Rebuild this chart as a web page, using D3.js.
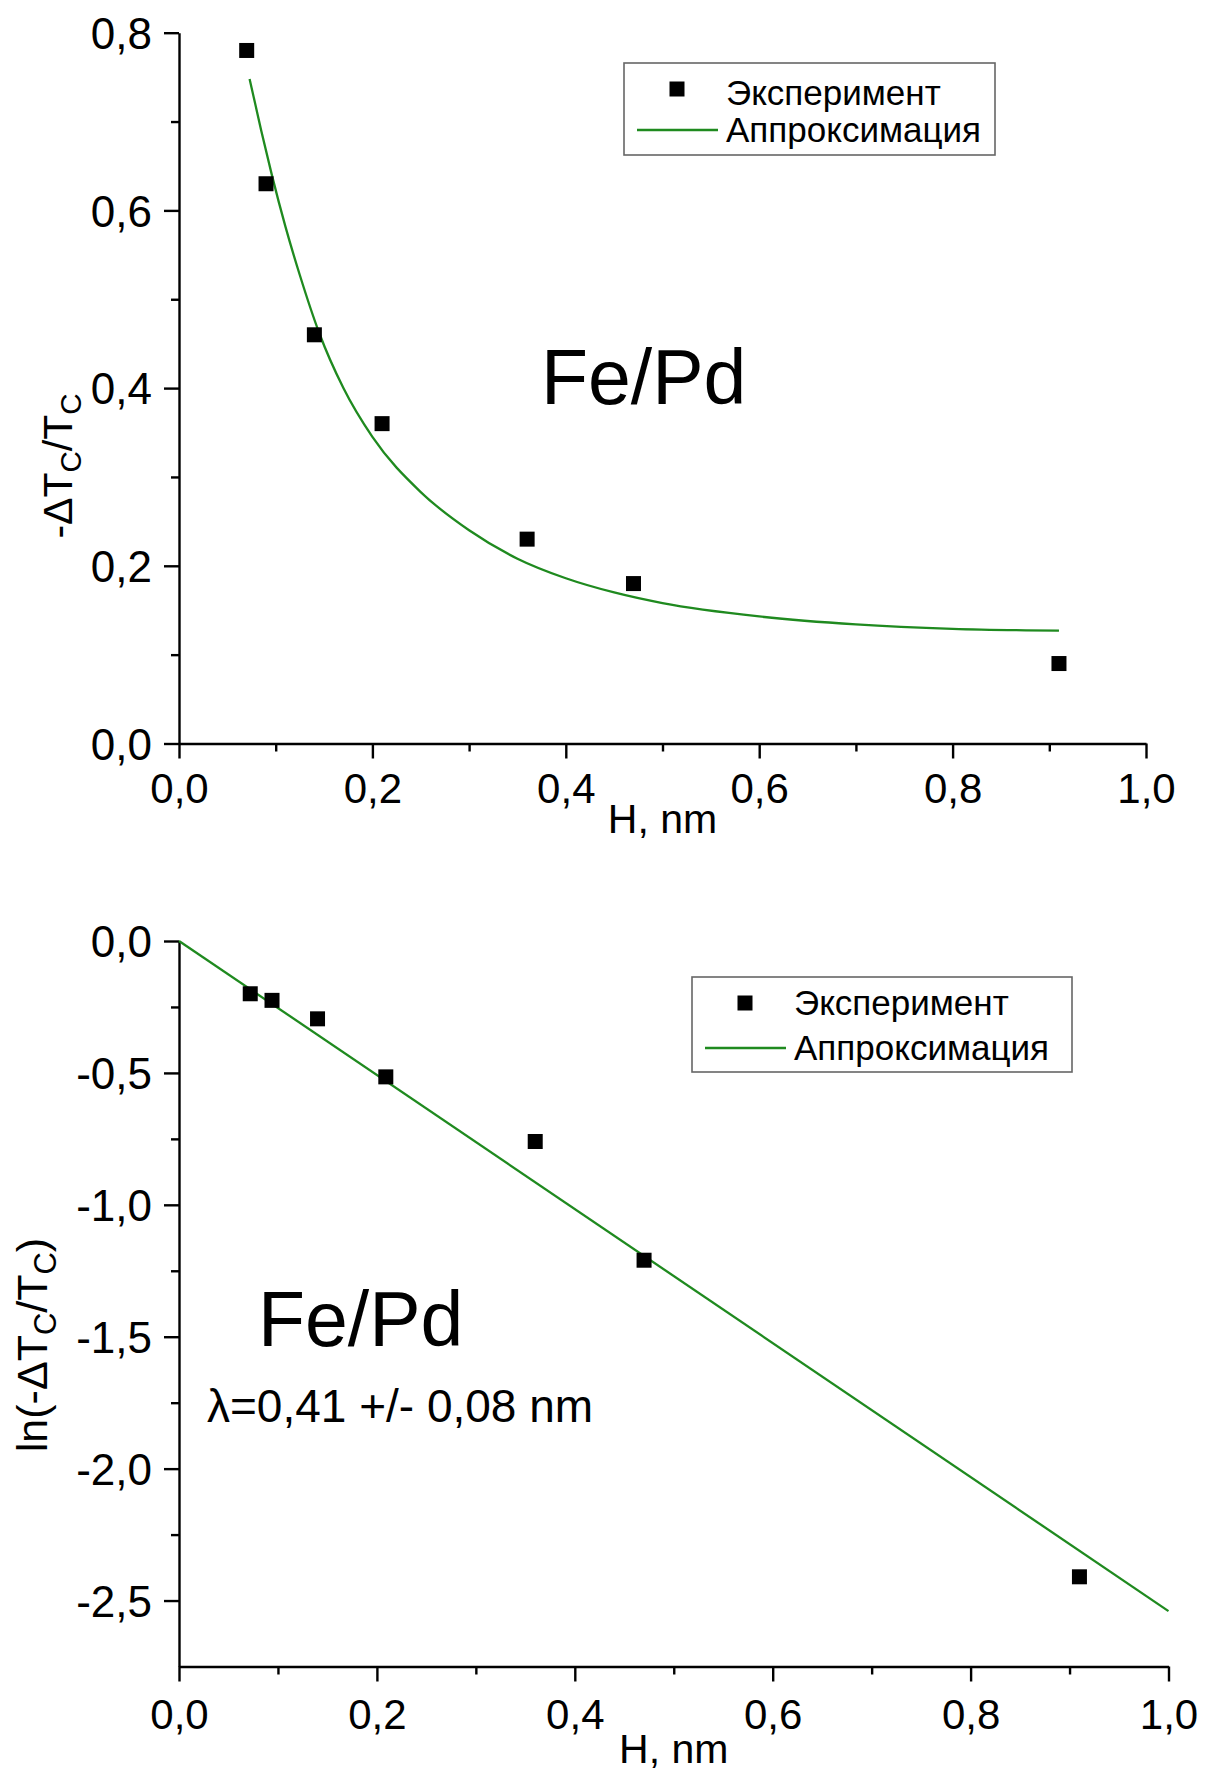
<!DOCTYPE html>
<html><head><meta charset="utf-8">
<script src="https://cdn.jsdelivr.net/npm/d3@7"></script>
<style>
html,body{margin:0;padding:0;background:#fff;}
svg text{font-family:"Liberation Sans",Arial,sans-serif;fill:#000;}
</style></head>
<body>
<svg id="c" width="1216" height="1775"></svg>
<script>
// ---- Data ----
const hTop = [0.07, 0.09, 0.14, 0.21, 0.36, 0.47, 0.91];
const dTcTop = [0.78, 0.63, 0.46, 0.36, 0.23, 0.18, 0.09];
const fitTopX = [0.073, 0.085, 0.096, 0.11, 0.125, 0.145, 0.17, 0.20, 0.25, 0.30, 0.35, 0.40, 0.45, 0.50, 0.60, 0.70, 0.80, 0.91];
const fitTopY = [0.748, 0.690, 0.640, 0.582, 0.527, 0.462, 0.400, 0.345, 0.283, 0.240, 0.208, 0.186, 0.170, 0.158, 0.143, 0.134, 0.129, 0.127];

const hBot = [0.072, 0.094, 0.14, 0.209, 0.36, 0.47, 0.91];
const lnBot = [-0.20, -0.225, -0.295, -0.515, -0.76, -1.21, -2.41];
const fitBotX = [0.0, 1.0];
const fitBotY = [0.0, -2.54];

const xTickValues = [0, 0.2, 0.4, 0.6, 0.8, 1.0];
const xTickLabels = ["0,0", "0,2", "0,4", "0,6", "0,8", "1,0"];
const xMinorValues = [0.1, 0.3, 0.5, 0.7, 0.9];
const yTopTickValues = [0, 0.2, 0.4, 0.6, 0.8];
const yTopTickLabels = ["0,0", "0,2", "0,4", "0,6", "0,8"];
const yTopMinorValues = [0.1, 0.3, 0.5, 0.7];
const yBotTickValues = [0, -0.5, -1.0, -1.5, -2.0, -2.5];
const yBotTickLabels = ["0,0", "-0,5", "-1,0", "-1,5", "-2,0", "-2,5"];
const yBotMinorValues = [-0.25, -0.75, -1.25, -1.75, -2.25];

const legendLabels = ["Эксперимент", "Аппроксимация"];
const sampleLabel = "Fe/Pd";
const lambdaLabel = "λ=0,41 +/- 0,08 nm";
const xTitle = "H, nm";

const GREEN = "#1f8a1f";
const svg = d3.select("#c");

function drawPanel(o) {
  const x = d3.scaleLinear().domain([0, 1]).range([o.x0, o.x1]);
  const y = d3.scaleLinear().domain(o.yDomain).range([o.y0, o.y1]);
  const g = svg.append("g");

  const fmtX = d => xTickLabels[xTickValues.indexOf(d)];
  const fmtY = d => o.yLabels[o.yTicks.indexOf(d)];
  const xa = g.append("g").attr("transform", `translate(0,${o.y0})`)
    .call(d3.axisBottom(x).tickValues(xTickValues).tickFormat(fmtX).tickSize(15).tickSizeOuter(0).tickPadding(6));
  g.append("g").attr("transform", `translate(0,${o.y0})`)
    .call(d3.axisBottom(x).tickValues(xMinorValues).tickFormat("").tickSize(8).tickSizeOuter(0))
    .select(".domain").remove();
  const ya = g.append("g").attr("transform", `translate(${o.x0},0)`)
    .call(d3.axisLeft(y).tickValues(o.yTicks).tickFormat(fmtY).tickSize(15).tickSizeOuter(0).tickPadding(12));
  g.append("g").attr("transform", `translate(${o.x0},0)`)
    .call(d3.axisLeft(y).tickValues(o.yMinor).tickFormat("").tickSize(8).tickSizeOuter(0))
    .select(".domain").remove();
  g.selectAll(".domain, .tick line").attr("stroke", "#000").attr("stroke-width", 2.4);
  g.selectAll(".tick text").attr("fill", "#000")
    .style("font-family", '"Liberation Sans",Arial,sans-serif');
  xa.selectAll(".tick text").attr("font-size", 42).attr("dy", null).attr("y", o.xLabelBase - o.y0);
  ya.selectAll(".tick text").attr("font-size", 44).attr("dy", "0.36em");

  g.append("text").attr("x", (o.x0 + o.x1) / 2).attr("y", o.xTitleBase)
    .attr("text-anchor", "middle").attr("font-size", 41).text(xTitle);

  const yt = g.append("text").attr("transform", `translate(${o.yTitleX},${o.yTitleY}) rotate(-90)`)
    .attr("text-anchor", "middle").attr("font-size", o.yTitleSize);
  if (o.ln) yt.append("tspan").text("ln(-ΔT");
  else yt.append("tspan").text("-ΔT");
  yt.append("tspan").attr("font-size", o.yTitleSize * 0.72).attr("dy", 9).text("C");
  yt.append("tspan").attr("dy", -9).text("/T");
  yt.append("tspan").attr("font-size", o.yTitleSize * 0.72).attr("dy", 9).text("C");
  if (o.ln) yt.append("tspan").attr("dy", -9).text(")");

  const line = d3.line().x(d => x(d[0])).y(d => y(d[1]));
  if (o.fitX.length > 2) line.curve(d3.curveMonotoneX);
  g.append("path").datum(o.fitX.map((v, i) => [v, o.fitY[i]]))
    .attr("d", line).attr("fill", "none").attr("stroke", GREEN).attr("stroke-width", 2.3);

  const s = 15;
  g.selectAll("rect.pt").data(o.px.map((v, i) => [v, o.py[i]])).enter().append("rect")
    .attr("class", "pt").attr("x", d => x(d[0]) - s / 2).attr("y", d => y(d[1]) - s / 2)
    .attr("width", s).attr("height", s).attr("fill", "#000");

  const L = o.legend;
  g.append("rect").attr("x", L.x).attr("y", L.y).attr("width", L.w).attr("height", L.h)
    .attr("fill", "#fff").attr("stroke", "#666").attr("stroke-width", 1.6);
  g.append("rect").attr("x", L.x + 53 - s / 2).attr("y", L.y + L.my - s / 2).attr("width", s).attr("height", s).attr("fill", "#000");
  g.append("line").attr("x1", L.x + 13).attr("x2", L.x + 94).attr("y1", L.y + L.ly).attr("y2", L.y + L.ly)
    .attr("stroke", GREEN).attr("stroke-width", 2.3);
  g.append("text").attr("x", L.x + 102).attr("y", L.y + L.b1).attr("font-size", 35).text(legendLabels[0]);
  g.append("text").attr("x", L.x + 102).attr("y", L.y + L.b2).attr("font-size", 35).text(legendLabels[1]);

  g.append("text").attr("x", o.fe[0]).attr("y", o.fe[1]).attr("font-size", 77).text(sampleLabel);
  if (o.lambda) g.append("text").attr("x", o.lambda[0]).attr("y", o.lambda[1]).attr("font-size", 46).text(lambdaLabel);
}

drawPanel({
  x0: 179, x1: 1146, y0: 743.5, y1: 32.7, yDomain: [0, 0.8],
  yTicks: yTopTickValues, yLabels: yTopTickLabels, yMinor: yTopMinorValues,
  xLabelBase: 803, xTitleBase: 833, yTitleX: 72, yTitleY: 466, yTitleSize: 41,
  fitX: fitTopX, fitY: fitTopY, px: hTop, py: dTcTop, ln: false,
  legend: {x: 624, y: 63, w: 371, h: 92, my: 26, ly: 67, b1: 42, b2: 79},
  fe: [541, 404]
});

drawPanel({
  x0: 179, x1: 1168.5, y0: 1666.5, y1: 941, yDomain: [-2.75, 0],
  yTicks: yBotTickValues, yLabels: yBotTickLabels, yMinor: yBotMinorValues,
  xLabelBase: 1729, xTitleBase: 1763, yTitleX: 47, yTitleY: 1345, yTitleSize: 43,
  fitX: fitBotX, fitY: fitBotY, px: hBot, py: lnBot, ln: true,
  legend: {x: 692, y: 977, w: 380, h: 95, my: 26, ly: 71, b1: 38, b2: 83},
  fe: [258, 1346], lambda: [207, 1422]
});
</script>
</body></html>
